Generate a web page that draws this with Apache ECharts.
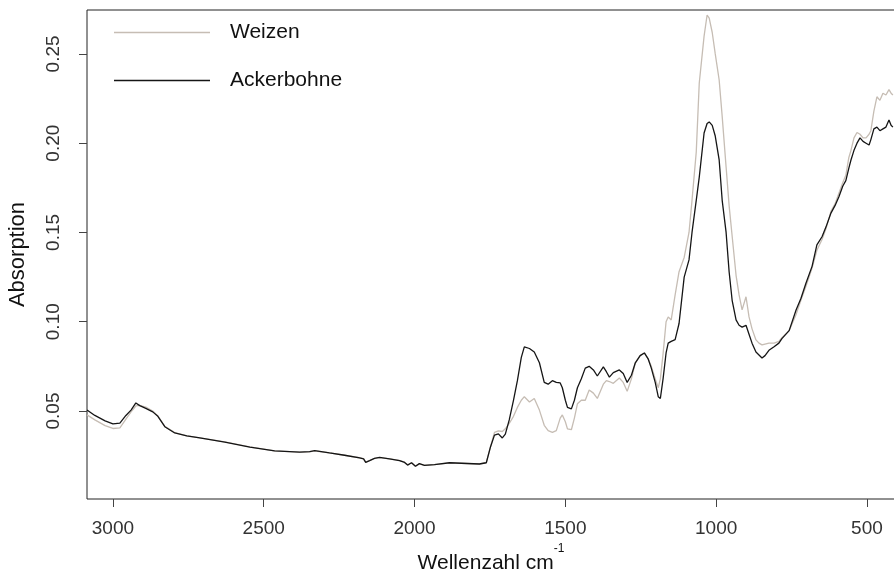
<!DOCTYPE html>
<html><head><meta charset="utf-8">
<script src="https://cdn.jsdelivr.net/npm/echarts@6/dist/echarts.min.js"></script>
<style>html,body{margin:0;padding:0;background:#fff}#c{width:894px;height:570px}</style>
</head><body><div id="c"></div>
<script>
const wavenumbers = [3086,3060,3026,3000,2977,2957,2940,2924,2911,2891,2868,2851,2828,2795,2755,2712,2629,2546,2464,2381,2348,2331,2325,2315,2282,2232,2182,2169,2162,2149,2133,2116,2083,2050,2033,2023,2010,1997,1984,1967,1934,1884,1785,1762,1748,1735,1722,1709,1699,1686,1672,1659,1646,1636,1619,1603,1586,1570,1557,1543,1530,1517,1510,1500,1493,1480,1470,1460,1447,1434,1421,1407,1394,1374,1364,1354,1341,1321,1308,1295,1281,1268,1252,1238,1225,1215,1202,1192,1185,1176,1166,1159,1149,1136,1123,1106,1090,1080,1066,1056,1040,1030,1023,1013,1003,990,980,967,957,947,934,924,914,901,891,881,868,858,848,838,825,808,792,782,758,735,719,702,682,666,649,636,619,606,593,580,570,560,553,543,533,523,513,503,493,487,477,467,457,447,437,427,420,414];
const ackerbohne = [.0506,.0475,.0445,.0428,.0432,.0475,.0505,.0545,.0530,.0515,.0495,.0470,.0412,.0377,.0360,.0349,.0326,.0298,.0276,.0270,.0272,.0278,.0284,.0274,.0265,.0252,.0237,.0232,.0212,.0222,.0235,.0240,.0232,.0222,.0212,.0197,.0210,.0190,.0205,.0195,.0200,.0210,.0203,.0210,.0300,.0365,.0372,.0349,.0370,.0450,.0560,.0670,.0800,.0859,.0850,.0830,.0770,.0660,.0650,.0670,.0660,.0657,.0630,.0560,.0520,.0512,.0560,.0630,.0680,.0740,.0750,.0730,.0696,.0747,.0720,.0690,.0715,.0730,.0710,.0660,.0700,.0770,.0810,.0825,.0790,.0740,.0660,.0580,.0570,.0680,.0825,.0880,.0890,.0900,.0990,.1250,.1346,.1500,.1680,.1810,.2057,.2110,.2119,.2100,.2040,.1906,.1680,.1500,.1280,.1120,.1010,.0980,.0970,.0980,.0930,.0880,.0830,.0814,.0797,.0810,.0840,.0860,.0880,.0905,.0950,.1066,.1130,.1217,.1310,.1430,.1476,.1530,.1610,.1650,.1700,.1760,.1790,.1860,.1906,.1960,.2000,.2030,.2010,.2000,.1990,.2020,.2080,.2090,.2070,.2080,.2090,.2130,.2100,.2090];
const weizen = [.0478,.0450,.0418,.0402,.0405,.0455,.0495,.0528,.0532,.0522,.0500,.0472,.0414,.0379,.0361,.0349,.0327,.0299,.0277,.0270,.0271,.0276,.0282,.0273,.0265,.0252,.0238,.0233,.0214,.0222,.0234,.0239,.0232,.0223,.0213,.0199,.0210,.0191,.0204,.0196,.0200,.0209,.0203,.0212,.0300,.0380,.0388,.0385,.0400,.0430,.0470,.0520,.0560,.0580,.0550,.0570,.0505,.0420,.0390,.0380,.0390,.0460,.0478,.0440,.0400,.0395,.0460,.0540,.0560,.0560,.0618,.0600,.0570,.0650,.0670,.0665,.0655,.0685,.0660,.0610,.0680,.0770,.0810,.0825,.0790,.0750,.0680,.0630,.0680,.0820,.1000,.1027,.1010,.1150,.1280,.1360,.1500,.1680,.1950,.2337,.2600,.2718,.2700,.2620,.2500,.2354,.2150,.1867,.1650,.1480,.1260,.1150,.1066,.1140,.1027,.0960,.0898,.0880,.0870,.0875,.0880,.0880,.0890,.0910,.0950,.1040,.1120,.1200,.1300,.1400,.1460,.1520,.1620,.1660,.1720,.1780,.1820,.1920,.1960,.2030,.2060,.2050,.2030,.2030,.2050,.2070,.2180,.2260,.2240,.2280,.2270,.2300,.2280,.2270];
const xTicks = [500,1000,1500,2000,2500,3000];
const yTicks = [0.05,0.10,0.15,0.20,0.25];
const seriesNames = ['Weizen','Ackerbohne'];

const font = "'Liberation Sans', Arial, sans-serif";
const chart = echarts.init(document.getElementById('c'), null, {renderer:'canvas'});
chart.setOption({
  animation:false,
  backgroundColor:'#fff',
  grid:{left:87, right:-1, top:10, bottom:71, outerBoundsMode:'none', containLabel:false,
        show:true, borderColor:'#222', borderWidth:1, backgroundColor:'transparent'},
  legend:{
    orient:'vertical', left:114, top:22, padding:0, itemWidth:96, itemHeight:1.3, itemGap:27,
    icon:'rect',
    data:seriesNames,
    textStyle:{fontFamily:font, fontSize:21, color:'#111', padding:[0,0,0,15]}
  },
  xAxis:{
    type:'value', inverse:true, min:407, max:3086,
    splitLine:{show:false},
    axisLine:{show:false},
    axisTick:{show:true, inside:false, length:8, lineStyle:{color:'#444'}, customValues:xTicks},
    axisLabel:{fontFamily:font, fontSize:19, color:'#333', margin:20, customValues:xTicks, formatter:v=>String(v)},
    name:'{m|Wellenzahl cm}{sup|-1}', nameLocation:'middle', nameGap:41,
    nameTextStyle:{fontFamily:font, fontSize:21, color:'#111',
      rich:{
        m:{fontFamily:font, fontSize:21, lineHeight:31, color:'#111', verticalAlign:'bottom'},
        sup:{fontFamily:font, fontSize:12, lineHeight:12, color:'#111', verticalAlign:'top'}
      }}
  },
  yAxis:{
    type:'value', min:0.0007, max:0.2746,
    splitLine:{show:false},
    axisLine:{show:false},
    axisTick:{show:true, length:8, lineStyle:{color:'#444'}, customValues:yTicks},
    axisLabel:{fontFamily:font, fontSize:19, color:'#333', rotate:90, margin:24, customValues:yTicks, formatter:v=>v.toFixed(2)},
    name:'Absorption', nameLocation:'middle', nameRotate:90, nameGap:58,
    nameTextStyle:{fontFamily:font, fontSize:22, color:'#111'}
  },
  series:[
    {name:'Weizen', type:'line', symbol:'none', showSymbol:false, clip:true,
     lineStyle:{color:'#c6bdb4', width:1.3}, itemStyle:{color:'#c6bdb4'},
     data:wavenumbers.map((w,i)=>[w,weizen[i]])},
    {name:'Ackerbohne', type:'line', symbol:'none', showSymbol:false, clip:true,
     lineStyle:{color:'#151515', width:1.3}, itemStyle:{color:'#151515'},
     data:wavenumbers.map((w,i)=>[w,ackerbohne[i]])}
  ]
});
</script></body></html>
